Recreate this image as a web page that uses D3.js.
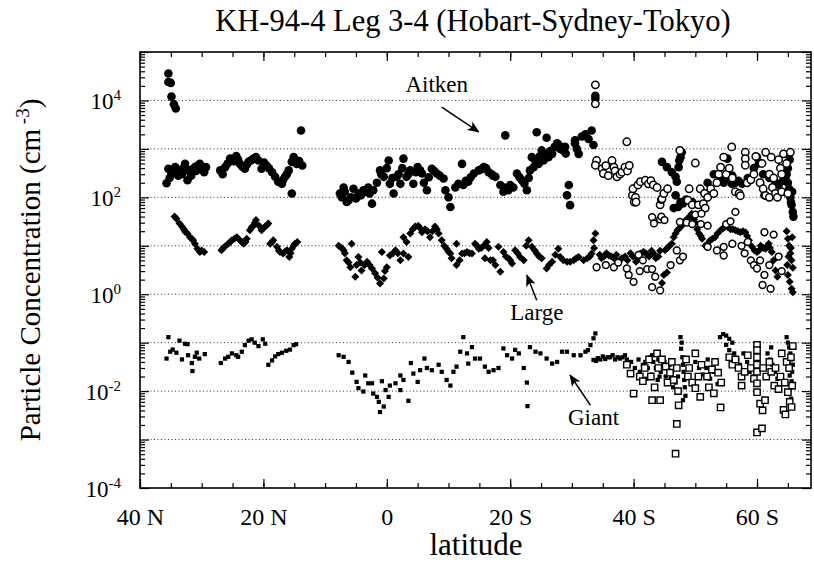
<!DOCTYPE html>
<html>
<head>
<meta charset="utf-8">
<script src="https://cdn.jsdelivr.net/npm/d3@7"></script>
<style>
  body { margin: 0; background: #fff; }
  svg text { font-family: "Liberation Serif", "DejaVu Serif", serif; }
</style>
</head>
<body>
<svg id="chart" width="814" height="564"></svg>
<script>
// [latitude (N positive, S negative), concentration cm^-3]
const aitkenFilled = [
  [35.4,36000],[35.4,24000],[35.0,23000],[34.9,12000],[34.5,8300],[34.2,6800],[13.9,2400],
  [35.7,195],[35.4,390],[35.2,250],[34.9,310],[34.6,350],[34.3,420],[33.8,280],[33.5,360],[33.2,300],
  [33.0,400],[32.7,490],[32.5,380],[32.3,225],[31.9,330],[31.7,280],[31.5,380],[31.1,420],[30.9,350],
  [30.7,450],[30.3,490],[30.0,380],[29.6,330],[29.3,420],
  [27.0,360],[26.6,300],[26.2,420],[25.8,500],[25.4,630],[24.8,560],[24.4,710],[24.1,600],[23.8,490],
  [23.4,430],[23.0,390],[22.7,470],[22.4,540],[22.0,580],[21.6,630],[21.2,680],[20.8,575],[20.3,390],
  [19.9,520],[19.5,455],[19.1,400],[18.6,330],[18.1,265],[17.6,210],[17.0,190],[16.8,230],[16.5,265],
  [16.2,300],[15.9,360],[15.4,540],[15.1,675],[15.4,120],[14.9,600],[14.6,490],[14.2,560],[13.7,455],
  [7.6,120],[7.3,100],[7.0,160],[6.8,130],[6.5,80],[6.2,87],[5.8,100],[5.4,150],[5.0,95],[4.6,120],
  [4.2,110],[3.8,140],[3.4,130],[3.0,160],[2.8,120],[2.4,74],[2.2,140],[1.6,200],[1.1,360],[0.9,300],
  [0.5,265],[0.0,400],[-0.3,575],[-0.5,190],[-0.9,250],[-1.1,120],[-1.6,265],[-1.9,300],[-2.2,190],
  [-2.5,400],[-2.7,630],[-3.2,265],[-3.5,300],[-3.8,360],[-4.3,190],[-4.7,330],[-5.0,420],[-5.4,360],
  [-5.7,310],[-6.0,200],[-6.5,140],[-6.8,260],[-7.3,390],[-7.7,350],[-8.1,310],[-8.6,280],[-9.2,245],
  [-9.5,140],[-10.0,100],[-10.3,63],[-11.1,160],[-11.6,190],[-12.2,490],[-12.4,180],[-12.8,220],
  [-13.2,210],[-13.6,260],[-14.1,310],[-14.9,360],[-15.3,380],[-15.7,420],[-16.1,400],[-16.5,330],
  [-17.0,300],[-17.2,280],[-17.6,265],[-18.4,180],[-18.9,130],[-19.0,160],[-19.2,1900],[-19.7,140],
  [-20.0,180],[-20.5,160],[-21.1,310],[-21.5,260],[-21.9,225],[-22.3,190],[-22.7,140],[-23.0,250],
  [-23.2,360],[-23.5,675],[-23.8,420],[-24.0,600],[-24.3,2200],[-24.6,490],[-24.8,700],[-25.1,930],
  [-25.4,575],[-25.6,800],[-25.9,1700],[-26.2,675],[-26.5,900],[-26.8,790],[-27.2,1100],[-27.6,1300],
  [-27.9,1200],[-28.1,1000],[-28.6,930],[-28.9,1100],[-29.0,800],[-29.2,110],[-29.5,180],[-29.7,69],
  [-30.5,1300],[-30.5,1500],[-30.8,1000],[-31.1,790],[-31.6,1800],[-32.2,2000],[-32.7,1600],
  [-33.2,2400],[-33.5,1200],[-33.8,12500],[-33.8,11000],
  [-44.6,540],[-45.4,420],[-46.2,330],[-46.8,265],[-47.0,210],[-47.3,420],[-47.4,575],[-47.6,675],
  [-47.8,850],[-46.8,110],[-47.6,80],[-48.5,90],[-49.5,80],[-47.2,63],[-46.5,60],[-48.0,75],
  [-52.0,200],[-53.0,300],[-54.1,245],[-54.6,200],[-55.0,250],[-55.2,630],[-55.9,190],[-56.0,280],
  [-56.5,200],[-57.0,220],[-57.6,190],[-58.5,250],[-59.5,400],[-60.0,675],[-60.3,500],[-61.0,300],
  [-61.2,110],[-62.0,250],[-63.0,200],[-63.5,180],[-64.2,220],
  [-64.6,250],[-64.8,300],[-65.0,200],[-65.0,400],[-65.2,150],[-65.3,600],[-65.4,100],
  [-65.5,80],[-65.6,70],[-65.7,130],[-65.8,50],[-65.9,40]
];
const aitkenOpen = [
  [-33.8,21000],[-33.8,8500],[-38.9,1400],
  [-34.0,575],[-33.8,460],[-34.9,390],[-35.1,310],[-35.5,450],[-35.9,280],[-36.5,575],[-36.8,420],
  [-37.0,350],[-37.3,265],[-37.8,300],[-38.1,330],[-38.6,420],[-39.0,350],[-39.3,455],[-39.8,110],
  [-39.9,150],[-40.1,80],[-40.3,100],[-40.4,80],[-40.7,180],[-41.1,210],[-41.9,225],[-42.4,190],
  [-42.8,220],[-43.2,180],[-43.8,160],[-44.3,70],[-44.5,90],[-44.6,93],[-44.9,120],[-45.5,150],
  [-47.5,930],[-48.8,87],[-49.0,150],[-49.5,70],[-50.0,510],[-50.5,70],[-50.8,150],[-51.3,74],
  [-51.5,120],[-51.6,60],[-52.0,100],[-52.5,150],[-53.0,120],[-53.5,200],[-53.8,300],[-54.1,420],
  [-54.6,675],[-55.0,300],[-55.5,400],[-55.9,1100],[-56.0,250],[-56.5,130],[-57.1,120],[-57.3,108],
  [-58.1,850],[-58.1,630],[-58.1,460],[-58.4,200],[-59.0,230],[-59.5,300],[-59.8,700],[-60.5,200],
  [-60.8,500],[-61.0,150],[-61.4,850],[-61.4,110],[-62.0,300],[-62.0,100],[-62.3,675],[-62.5,160],
  [-62.7,250],[-63.0,120],[-63.3,100],[-63.5,600],[-63.8,400],[-64.0,130],[-64.0,300],[-64.3,790],
  [-64.8,500],[-65.0,120],[-65.4,850]
];
const largeFilled = [
  [34.4,40],[34.1,36],[33.6,29],[33.2,25],[32.9,22],[32.7,19.5],[32.3,18],[31.9,15],[31.6,14],
  [31.4,13],[31.1,11],[30.7,8.7],[30.3,7.4],[30.0,8],[29.6,7.4],
  [26.8,8.1],[26.5,9],[26.2,9.8],[25.7,11],[25.4,12],[25.1,13],[24.7,14],[24.3,15],[23.8,13],
  [23.5,12],[23.2,11],[22.9,12],[22.7,14],[22.2,21],[21.9,24],[21.6,26],[21.4,30],[21.2,34],
  [20.7,26],[20.3,21],[20.0,23],[19.7,25],[19.4,27],[19.2,29],[18.9,11],[18.6,12],[18.4,13],
  [17.8,9.5],[17.5,8],[17.3,7.4],[16.8,6.9],[16.5,7.5],[16.2,8.1],[15.8,5.9],[15.6,7],[15.4,8.7],
  [15.1,10],[14.9,11],[14.5,12],
  [7.8,10],[7.3,9],[7.0,8.1],[6.8,7],[6.5,5.0],[6.2,4.5],[5.9,3.6],[5.7,11],[5.1,2.3],[4.9,4],
  [4.6,5.9],[4.3,4.5],[4.1,3.1],[3.6,4],[3.2,4.7],[2.8,4],[2.4,3.4],[1.9,2.7],[1.5,2.2],[1.1,1.66],
  [0.5,2.1],[0.3,3],[0.8,7.4],[0.0,3.6],[-0.5,6.3],[-1.0,7],[-1.4,8.1],[-1.8,7],[-2.2,5.0],
  [-2.7,6.9],[-3.5,5.9],[-2.7,15],[-3.2,12],[-3.8,18],[-4.2,22],[-4.6,25],[-5.1,26],[-5.4,23],
  [-5.7,19],[-6.2,22],[-6.6,20],[-7.0,15],[-7.4,20],[-7.8,25],[-8.1,22],[-8.4,18],[-8.9,13],
  [-9.3,10],[-9.7,8.7],[-10.0,7.5],[-10.3,6.9],[-10.5,5.5],[-11.3,4.0],[-11.3,11],[-11.8,5],
  [-12.2,6.9],[-12.6,7],[-13.0,7.4],[-13.4,7],[-13.8,6.9],[-14.3,11],[-14.6,10],[-14.9,8.7],
  [-15.3,9],[-15.7,10],[-16.2,12],[-16.5,9],[-15.9,5.5],[-16.8,5.0],[-17.2,5],[-17.6,4.0],
  [-18.4,2.9],[-18.1,9.5],[-18.9,7.4],[-19.3,6],[-19.7,5.5],[-20.0,5],[-20.3,4.3],[-20.8,8.1],
  [-21.2,7],[-21.6,5.9],[-22.2,5.0],[-22.6,10],[-23.0,13],[-23.5,9.5],[-24.0,8],[-24.3,6.9],
  [-24.7,6],[-25.1,5.5],[-25.9,3.4],[-26.3,4],[-26.8,4.7],[-27.3,6.5],[-27.8,8.7],[-28.1,5.9],
  [-28.6,5],[-29.2,4.7],[-29.7,4.7],[-30.3,5.0],[-30.7,5.5],[-31.1,5.9],[-31.9,5.0],[-32.5,5.5],
  [-32.9,6],[-33.2,6.9],[-33.6,9],[-33.5,13],[-33.8,18],
  [-34.5,6.5],[-34.8,5.5],[-35.2,6.0],[-35.6,7],[-36.0,6.3],[-36.4,6],[-36.8,5.5],[-37.2,6.5],
  [-37.7,5.0],[-38.1,5.5],[-38.6,6.0],[-39.0,5],[-39.5,7.0],[-39.9,6],[-40.4,4.7],[-40.8,5.5],
  [-41.1,6.9],[-41.6,7.5],[-42.0,6.9],[-42.5,6],[-42.9,7.9],[-43.2,7],[-43.6,5.5],[-44.0,6],
  [-44.3,7.9],[-44.6,1.7],[-44.9,2.5],[-45.4,2.8],[-45.1,8.1],[-45.5,9],[-45.8,10],[-46.2,11],
  [-46.5,15],[-46.8,18],[-47.1,21],[-47.4,23],[-47.7,25],[-48.0,28],[-48.3,32],[-48.6,35],
  [-48.9,38],[-49.1,40],[-49.4,46],[-49.8,35],[-50.0,30],[-50.3,22],[-50.6,18],[-50.9,16],
  [-51.1,14],[-51.6,10],[-52.0,11],[-52.4,13],[-52.8,14],[-53.2,15],[-53.6,18],[-54.1,21],
  [-54.5,23],[-54.9,25],[-55.3,24],[-55.7,22],[-56.1,22],[-56.5,21],[-56.9,20],[-57.3,19],
  [-57.7,20],[-58.1,19],[-58.4,16],[-58.7,13],[-59.2,9.5],[-59.6,8],[-60.0,7.4],[-60.3,8],
  [-60.6,10],[-61.0,9],[-61.4,8.7],[-61.7,10],[-61.9,11],[-62.1,9],[-62.4,7.4],[-62.7,5.0],
  [-63.0,3.1],[-63.3,2.3],
  [-64.8,20],[-64.9,4],[-65.0,14],[-65.0,2.5],[-65.1,6],[-65.2,10],[-65.3,1.8],[-65.4,7],[-65.5,9],
  [-65.6,5],[-65.6,1.3],[-65.7,15],[-65.8,3.5],[-65.8,1.1]
];
const largeOpen = [
  [-34.0,3.6],[-35.5,4],[-36.8,3.6],[-37.5,4.5],[-38.9,3.4],[-39.2,2.5],[-40.0,1.8],[-40.8,6.5],
  [-41.0,3],[-41.5,5],[-42.2,3.3],[-43.0,3.3],[-43.5,2.3],[-43.0,1.4],[-44.3,1.2],[-43.0,39],
  [-43.3,29],[-44.3,35],[-44.5,40],[-45.0,34],[-46.0,4],[-47.0,8],[-47.5,5],[-47.5,31],[-48.0,6],
  [-48.6,30],[-49.5,28],[-50.0,44],[-50.9,28],[-51.0,46],[-52.0,26],[-52.0,9.5],[-53.5,8],
  [-54.6,9.5],[-54.6,6.3],[-55.0,28],[-55.7,32],[-56.0,11],[-56.5,50],[-57.5,10],[-58.0,7],
  [-58.5,12],[-59.0,5.0],[-59.5,4],[-60.0,3.4],[-60.5,5],[-60.9,1.55],[-61.2,19],[-61.2,2.5],
  [-62.0,4],[-62.2,1.3],[-62.7,17],[-63.5,6],[-64.0,3]
];
const giantFilled = [
  [35.4,0.13],[35.7,0.047],[35.1,0.065],[34.7,0.072],[34.1,0.062],[33.6,0.11],[33.2,0.045],
  [32.7,0.095],[32.3,0.093],[32.2,0.055],[31.6,0.038],[31.5,0.026],[31.1,0.051],[30.8,0.062],
  [30.4,0.047],[29.5,0.058],
  [26.9,0.038],[26.2,0.047],[25.7,0.051],[25.1,0.060],[24.4,0.055],[24.1,0.051],[23.5,0.065],
  [23.0,0.089],[22.4,0.11],[21.9,0.117],[21.4,0.1],[20.8,0.085],[20.1,0.117],[19.7,0.095],
  [19.2,0.035],[18.6,0.043],[18.1,0.052],[17.6,0.058],[17.0,0.062],[16.3,0.068],[15.7,0.072],
  [15.1,0.089],[14.7,0.093],
  [7.8,0.055],[7.0,0.051],[6.2,0.04],[5.6,0.024],[4.9,0.0155],[4.6,0.0115],[3.8,0.0098],[3.5,0.021],
  [3.0,0.0145],[2.4,0.0145],[2.2,0.0089],[1.6,0.0076],[1.3,0.006],[1.1,0.0037],[0.5,0.0048],
  [0.8,0.016],[0.2,0.0105],[-0.3,0.0076],[-0.5,0.013],[-1.4,0.0145],[-2.2,0.021],[-2.2,0.0105],
  [-2.7,0.017],[-3.5,0.0063],[-3.9,0.038],[-4.3,0.023],[-5.0,0.0155],[-5.4,0.027],[-6.1,0.047],
  [-6.5,0.03],[-7.3,0.027],[-8.4,0.035],[-8.9,0.025],[-9.7,0.017],[-10.3,0.013],[-10.8,0.025],
  [-11.3,0.032],[-11.9,0.065],[-12.4,0.13],[-13.0,0.06],[-13.2,0.037],[-13.8,0.081],[-14.3,0.047],
  [-15.1,0.047],[-15.9,0.032],[-16.5,0.025],[-17.3,0.027],[-18.1,0.03],[-18.9,0.076],[-19.5,0.055],
  [-20.3,0.047],[-20.8,0.071],[-21.4,0.06],[-22.2,0.03],[-22.7,0.015],[-22.8,0.0049],[-23.2,0.081],
  [-24.1,0.065],[-24.9,0.06],[-25.9,0.047],[-26.8,0.037],[-27.6,0.04],[-28.4,0.065],[-29.2,0.065],
  [-30.3,0.055],[-31.4,0.055],[-32.2,0.065],[-32.6,0.07],[-33.0,0.089],[-33.5,0.123],[-33.8,0.155],
  [-33.5,0.044],[-33.9,0.042],[-34.2,0.048],[-34.6,0.045],[-35.0,0.052],[-35.4,0.046],[-35.8,0.05],
  [-36.2,0.05],[-36.6,0.055],[-37.0,0.045],[-37.4,0.05],[-37.8,0.047],[-38.2,0.05],[-38.6,0.055],
  [-38.9,0.045],[-39.2,0.035],[-39.6,0.04],[-40.2,0.03],[-40.8,0.045],[-41.0,0.025],[-41.5,0.035],
  [-41.9,0.04],[-42.0,0.018],[-42.3,0.03],[-42.7,0.05],[-42.9,0.022],[-43.0,0.055],[-43.2,0.04],
  [-43.6,0.03],[-43.9,0.017],[-44.0,0.045],[-44.2,0.02],[-44.4,0.025],[-44.8,0.035],[-45.0,0.04],
  [-45.2,0.02],[-45.6,0.028],[-45.8,0.035],[-46.0,0.018],[-46.2,0.025],[-46.4,0.012],[-46.8,0.015],
  [-47.2,0.02],
  [-47.6,0.13],[-47.7,0.075],[-47.8,0.1],[-47.9,0.05],[-48.0,0.035],[-48.0,0.0065],[-48.1,0.025],
  [-48.2,0.017],[-48.3,0.012],[-48.4,0.008],
  [-50.0,0.04],[-50.6,0.03],[-51.2,0.022],[-51.8,0.03],[-52.0,0.045],[-52.4,0.018],[-53.0,0.025],
  [-53.6,0.014],
  [-54.0,0.13],[-54.5,0.15],[-55.0,0.14],[-55.0,0.09],[-55.5,0.12],[-55.5,0.07],[-56.0,0.10],
  [-56.3,0.06],[-56.8,0.045],[-57.2,0.035],[-57.8,0.06],[-58.4,0.04],[-58.8,0.025],[-59.3,0.02],
  [-61.7,0.06],[-62.1,0.045],[-62.3,0.08],[-62.5,0.035],[-62.9,0.025],[-63.3,0.018],[-63.7,0.012],
  [-64.8,0.13],[-65.0,0.1],[-65.0,0.028],[-65.1,0.04],[-65.2,0.08],[-65.2,0.0095],[-65.3,0.021],
  [-65.4,0.06],[-65.5,0.007],[-65.6,0.045],[-65.6,0.016],[-65.7,0.025],[-65.8,0.035],[-65.9,0.012]
];
const giantOpen = [
  [-38.9,0.035],[-39.5,0.023],[-40.0,0.0089],[-41.0,0.02],[-41.5,0.016],[-41.8,0.03],[-42.5,0.045],
  [-42.8,0.02],[-43.0,0.0065],[-43.4,0.012],[-43.8,0.06],[-44.0,0.03],[-44.3,0.0065],[-44.6,0.045],
  [-45.2,0.032],[-45.5,0.015],[-45.9,0.024],[-46.2,0.04],[-46.5,0.017],[-46.8,0.00051],[-47.0,0.0021],
  [-47.0,0.03],[-47.2,0.01],[-47.3,0.0051],[-48.5,0.045],[-48.8,0.02],[-49.0,0.03],[-49.5,0.015],
  [-50.0,0.06],[-50.0,0.0115],[-50.5,0.02],[-50.8,0.0076],[-51.0,0.035],[-51.9,0.02],[-52.2,0.012],
  [-52.7,0.028],[-53.0,0.009],[-53.2,0.04],[-53.7,0.024],[-54.1,0.0046],[-54.2,0.015],[-55.5,0.05],
  [-56.0,0.035],[-56.5,0.045],[-57.0,0.03],[-57.5,0.02],[-57.5,0.013],[-58.0,0.025],[-58.5,0.055],
  [-59.0,0.03],[-59.5,0.018],
  [-60.0,0.09],[-60.0,0.07],[-60.0,0.05],[-60.0,0.035],[-60.0,0.025],[-60.0,0.0145],[-60.0,0.0095],
  [-60.0,0.0014],[-60.5,0.0055],[-60.8,0.0017],[-60.9,0.004],[-61.0,0.03],[-61.3,0.0065],
  [-61.5,0.02],[-62.0,0.04],[-62.3,0.025],[-62.8,0.013],[-63.0,0.03],[-63.5,0.011],[-63.8,0.02],
  [-64.0,0.06],[-64.3,0.0041],[-64.5,0.015],[-64.6,0.0033],[-64.8,0.04],[-65.0,0.0095],[-65.2,0.03],
  [-65.3,0.006],[-65.5,0.05],[-65.6,0.0047],[-65.7,0.013],[-65.8,0.085]
];
const xMajor = [40, 20, 0, -20, -40, -60];
const yLabelExps = [4, 2, 0, -2, -4];
const gridExps = [-3, -2, -1, 0, 1, 2, 3, 4];
// annotation text + arrow, in data units
const notes = [
  {text: 'Aitken', at: [-8.1, 15000], from: [-8.9, 7300], to: [-14.9, 2250]},
  {text: 'Large', at: [-24.3, 0.29], from: [-24.3, 0.75], to: [-22.7, 2.47]},
  {text: 'Giant', at: [-33.5, 0.002], from: [-33.0, 0.0051], to: [-29.7, 0.0214]}
];

const FONT = '"Liberation Serif", "DejaVu Serif", serif';
const svg = d3.select('#chart');
const mLeft = 140, mRight = 811, mTop = 52, mBottom = 488;

const x = d3.scaleLinear().domain([40, -68.75]).range([mLeft, mRight]);
const y = d3.scaleLog().domain([1e-4, 1e5]).range([mBottom, mTop]);

const xMinor = d3.range(40, -69, -5);
const yMinor = [];
for (let e = -4; e < 5; e++) for (let k = 2; k < 10; k++) yMinor.push(k * Math.pow(10, e));
const yMajor = d3.range(-4, 6).map(e => Math.pow(10, e));

// dotted grid
svg.append('g').selectAll('line').data(gridExps).join('line')
  .attr('x1', mLeft).attr('x2', mRight)
  .attr('y1', d => y(Math.pow(10, d))).attr('y2', d => y(Math.pow(10, d)))
  .attr('stroke', '#333').attr('stroke-width', 1).attr('stroke-dasharray', '1,2.5');

function addAxis(axis, tr) {
  const g = svg.append('g').attr('transform', tr).call(axis);
  g.select('.domain').remove();
  g.selectAll('.tick line').attr('stroke', '#000').attr('stroke-width', 1.2);
  return g;
}

addAxis(d3.axisBottom(x).tickValues(xMinor).tickSize(-5).tickFormat(''), `translate(0,${mBottom})`);
addAxis(d3.axisTop(x).tickValues(xMinor).tickSize(-5).tickFormat(''), `translate(0,${mTop})`);
addAxis(d3.axisTop(x).tickValues(xMajor).tickSize(-9).tickFormat(''), `translate(0,${mTop})`);
const xg = addAxis(d3.axisBottom(x).tickValues(xMajor).tickSize(-9).tickPadding(20)
    .tickFormat(d => d > 0 ? d + ' N' : d < 0 ? (-d) + ' S' : '0'), `translate(0,${mBottom})`);
xg.attr('font-family', FONT).attr('font-size', 24);
xg.selectAll('text').attr('fill', '#000');

addAxis(d3.axisLeft(y).tickValues(yMinor).tickSize(-5).tickFormat(''), `translate(${mLeft},0)`);
addAxis(d3.axisLeft(y).tickValues(yMajor).tickSize(-9).tickFormat(''), `translate(${mLeft},0)`);
addAxis(d3.axisRight(y).tickValues(yMinor).tickSize(-5).tickFormat(''), `translate(${mRight},0)`);
addAxis(d3.axisRight(y).tickValues(yMajor).tickSize(-9).tickFormat(''), `translate(${mRight},0)`);

// frame
svg.append('rect').attr('x', mLeft).attr('y', mTop)
  .attr('width', mRight - mLeft).attr('height', mBottom - mTop)
  .attr('fill', 'none').attr('stroke', '#000').attr('stroke-width', 1.6);

// y tick labels 10^n
const yl = svg.append('g').attr('font-family', FONT).selectAll('text').data(yLabelExps).join('text')
  .attr('x', 121).attr('y', d => y(Math.pow(10, d)) + 9)
  .attr('text-anchor', 'end').attr('font-size', 23);
yl.append('tspan').text('10');
yl.append('tspan').attr('dy', -9).attr('font-size', 15).text(d => d);

// markers
const plot = svg.append('g');
plot.append('g').selectAll('circle').data(aitkenFilled).join('circle')
  .attr('cx', d => x(d[0])).attr('cy', d => y(d[1])).attr('r', 4.3).attr('fill', '#000');
plot.append('g').selectAll('path').data(largeFilled).join('path')
  .attr('d', d3.symbol(d3.symbolSquare, 32))
  .attr('transform', d => `translate(${x(d[0])},${y(d[1])}) rotate(45)`).attr('fill', '#000');
plot.append('g').selectAll('path').data(giantFilled).join('path')
  .attr('d', d3.symbol(d3.symbolSquare, 18))
  .attr('transform', d => `translate(${x(d[0])},${y(d[1])})`).attr('fill', '#000');
plot.append('g').selectAll('circle').data(aitkenOpen).join('circle')
  .attr('cx', d => x(d[0])).attr('cy', d => y(d[1])).attr('r', 3.7)
  .attr('fill', '#fff').attr('stroke', '#000').attr('stroke-width', 1.5);
plot.append('g').selectAll('circle').data(largeOpen).join('circle')
  .attr('cx', d => x(d[0])).attr('cy', d => y(d[1])).attr('r', 3.4)
  .attr('fill', '#fff').attr('stroke', '#000').attr('stroke-width', 1.5);
plot.append('g').selectAll('path').data(giantOpen).join('path')
  .attr('d', d3.symbol(d3.symbolSquare, 40))
  .attr('transform', d => `translate(${x(d[0])},${y(d[1])})`)
  .attr('fill', '#fff').attr('stroke', '#000').attr('stroke-width', 1.4);

// annotations
svg.append('defs').append('marker')
  .attr('id', 'head').attr('viewBox', '0 0 12 10').attr('refX', 11).attr('refY', 5)
  .attr('markerWidth', 12).attr('markerHeight', 10).attr('markerUnits', 'userSpaceOnUse')
  .attr('orient', 'auto')
  .append('path').attr('d', 'M0,0 L12,5 L0,10 L3,5 Z').attr('fill', '#000');

const ann = svg.append('g').attr('font-family', FONT);
ann.selectAll('line').data(notes).join('line')
  .attr('x1', d => x(d.from[0])).attr('y1', d => y(d.from[1]))
  .attr('x2', d => x(d.to[0])).attr('y2', d => y(d.to[1]))
  .attr('stroke', '#000').attr('stroke-width', 1.5).attr('marker-end', 'url(#head)');
ann.selectAll('text').data(notes).join('text')
  .attr('x', d => x(d.at[0])).attr('y', d => y(d.at[1]))
  .attr('text-anchor', 'middle').attr('font-size', 23).text(d => d.text);

// titles
svg.append('text').attr('x', 473).attr('y', 31).attr('text-anchor', 'middle')
  .attr('font-family', FONT).attr('font-size', 30.5).text('KH-94-4 Leg 3-4 (Hobart-Sydney-Tokyo)');
svg.append('text').attr('x', 476).attr('y', 555).attr('text-anchor', 'middle')
  .attr('font-family', FONT).attr('font-size', 31).text('latitude');
const yt = svg.append('text').attr('transform', 'translate(40,270) rotate(-90)')
  .attr('text-anchor', 'middle').attr('font-family', FONT).attr('font-size', 29);
yt.append('tspan').text('Particle Concentration (cm');
yt.append('tspan').attr('dy', -11).attr('font-size', 19).text(' -3');
yt.append('tspan').attr('dy', 11).text(')');
</script>
</body>
</html>
